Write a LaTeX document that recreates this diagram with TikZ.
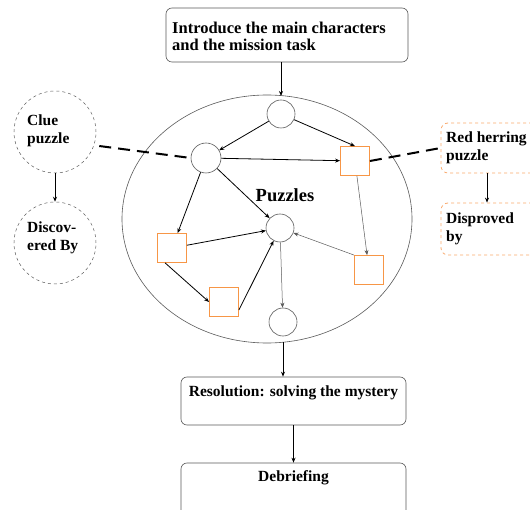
\documentclass[tikz,border=0pt]{standalone}
\usepackage{fontspec}
\setmainfont{Liberation Serif}
\usetikzlibrary{arrows.meta}
\definecolor{sqorange}{RGB}{247,150,70}
\definecolor{dorange}{RGB}{250,170,110}
\definecolor{lgray}{RGB}{90,90,90}
\tikzset{
  x=1pt,y=-1pt,
  arr/.style={-{Stealth[length=5pt,width=4pt]},black,line width=0.8pt},
  tarr/.style={-{Stealth[length=5pt,width=4pt]},lgray,line width=0.5pt},
  pcirc/.style={circle,draw=lgray,line width=0.6pt,minimum size=28pt,inner sep=0pt},
  psq/.style={rectangle,draw=sqorange,line width=0.8pt,minimum width=29pt,minimum height=29pt,inner sep=0pt},
  stagebox/.style={rectangle,rounded corners=6pt,draw=lgray,line width=0.6pt,inner sep=0pt},
  sidecirc/.style={circle,draw=lgray,dashed,line width=0.5pt,minimum size=82pt,inner sep=0pt},
  sidebox/.style={rectangle,rounded corners=7pt,draw=dorange,dashed,line width=0.8pt,minimum width=110pt,minimum height=50pt,inner sep=0pt},
  lab/.style={font=\bfseries\fontsize{15.5}{17.5}\selectfont,align=left,inner sep=0pt}
}
\begin{document}
\begin{tikzpicture}
\clip (0,0) rectangle (530,510);
\fill[white] (0,0) rectangle (530,510);
% outer ellipse
\draw[lgray,line width=0.6pt] (267,219) ellipse [x radius=145,y radius=124];
% stage boxes
\node[stagebox,minimum width=242pt,minimum height=54pt] (intro) at (287,35) {};
\node[lab,anchor=north west,font=\bfseries\fontsize{16.5}{17}\selectfont] (introtxt) at (172,22) {Introduce the main characters\\and the mission task};
\node[stagebox,minimum width=225pt,minimum height=48pt] (res) at (293.5,401) {};
\node[lab,anchor=center] (restxt) at (293.5,392.5) {Resolution: solving the mystery};
\node[stagebox,minimum width=225pt,minimum height=70pt] (deb) at (293.5,498) {};
\node[lab,anchor=center] (debtxt) at (293.5,478) {Debriefing};
% puzzle nodes
\node[pcirc] (top) at (281,114) {};
\node[pcirc,minimum size=30pt] (A) at (206,158) {};
\node[psq] (B) at (355,161) {};
\node[pcirc] (C) at (280,228) {};
\node[psq] (D) at (172,248) {};
\node[psq] (E) at (224,302) {};
\node[psq] (F) at (369,270) {};
\node[pcirc] (G) at (283,322) {};
\node[lab,font=\bfseries\fontsize{18.5}{20}\selectfont] (pz) at (285,195) {Puzzles};
% side nodes
\node[sidecirc] (clue) at (55,132) {};
\node[lab,anchor=north west] (cluetxt) at (27,115) {Clue\\puzzle};
\node[sidecirc] (disc) at (55,243) {};
\node[lab,anchor=north west] (disctxt) at (27,222) {Discov-\\ered By};
\node[sidebox] (red) at (496,148) {};
\node[lab,anchor=north west] (redtxt) at (446,132) {Red herring\\puzzle};
\node[sidebox,minimum height=52pt] (dis) at (496,229) {};
\node[lab,anchor=north west] (distxt) at (446,213) {Disproved\\by};
% connectors
\draw[arr] (intro.south -| top.north) -- (281,96);
\draw[arr] (top) -- (A);
\draw[arr] (top) -- (B.north);
\draw[arr] (A) -- (B);
\draw[arr] (A) -- (D);
\draw[arr] (A) -- (C);
\draw[arr] (D) -- (C);
\draw[arr] (D.south west) ++(8,0) coordinate (ds) -- (E.west |- E.center);
\draw[arr] (E.east) ++(0,8) coordinate (es) -- (C);
\draw[tarr] (F.north west) ++(0,0) coordinate (fs) -- (C);
\draw[tarr] (B) -- (F);
\draw[tarr] (C) -- (G);
\draw[arr] (G.south) ++(0,6) coordinate (gs) -- (res.north -| G.south);
\draw[arr] (res.south -| debtxt) -- (deb.north -| debtxt);
\draw[arr] (clue) -- (disc);
\draw[arr] (red.south -| 487,0) -- (dis.north -| 487,0);
\draw[black,line width=2pt,dash pattern=on 12pt off 7pt] (clue.east) ++(3,14) coordinate (ce) -- (A.west);
\draw[black,line width=2pt,dash pattern=on 12pt off 7pt] (B.east) -- (red.west);
\end{tikzpicture}
\end{document}
